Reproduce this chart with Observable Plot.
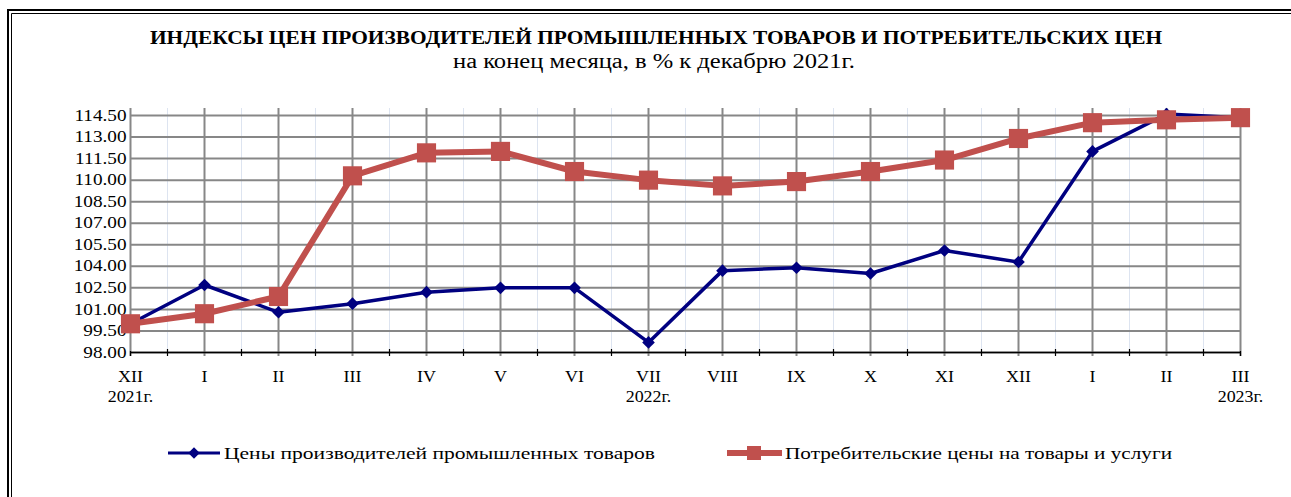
<!DOCTYPE html>
<html><head><meta charset="utf-8">
<script src="https://cdn.jsdelivr.net/npm/d3@7"></script>
<script src="https://cdn.jsdelivr.net/npm/@observablehq/plot@0.6"></script>
<style>
html,body{margin:0;padding:0;background:#fff;}
#wrap{position:relative;width:1291px;height:497px;overflow:hidden;font-family:"Liberation Serif",serif;}
#wrap svg{position:absolute;left:0;top:0;}
</style></head>
<body><div id="wrap"></div>
<script>
const months = ["XII","I","II","III","IV","V","VI","VII","VIII","IX","X","XI","XII","I","II","III"];
const years = ["2021г.","","","","","","","2022г.","","","","","","","","2023г."];
const producer = [100.0, 102.7, 100.8, 101.4, 102.2, 102.5, 102.5, 98.7, 103.7, 103.9, 103.5, 105.1, 104.3, 112.0, 114.6, 114.35];
const consumer = [100.0, 100.7, 101.9, 110.3, 111.9, 112.0, 110.6, 110.0, 109.6, 109.9, 110.6, 111.4, 112.9, 114.0, 114.2, 114.35];
const yTicks = [98, 99.5, 101, 102.5, 104, 105.5, 107, 108.5, 110, 111.5, 113, 114.5];
const titleText = "ИНДЕКСЫ ЦЕН ПРОИЗВОДИТЕЛЕЙ ПРОМЫШЛЕННЫХ ТОВАРОВ И ПОТРЕБИТЕЛЬСКИХ ЦЕН";
const subtitleText = "на конец месяца, в % к декабрю 2021г.";
const seriesNames = ["Цены производителей промышленных товаров", "Потребительские цены на товары и услуги"];
const colors = ["#000080", "#C0504D"];

const rows = months.map((m, i) => ({i, m, p: producer[i], c: consumer[i]}));
const idx = d3.range(months.length);
const mids = d3.range(months.length - 1).map(i => i + 0.5);
const yearIdx = idx.filter(i => years[i]);
const font = "Liberation Serif";

const chart = Plot.plot({
  width: 1291, height: 497,
  marginLeft: 130, marginRight: 51, marginTop: 108, marginBottom: 145,
  style: {fontFamily: font, fontSize: "16px", color: "#000", background: "transparent", overflow: "visible"},
  x: {type: "linear", domain: [0, months.length - 1], label: null},
  y: {domain: [98, 114.5], range: [352, 115], label: null},
  marks: [
    Plot.ruleX(mids, {stroke: "#dde4f0", strokeWidth: 1}),
    Plot.gridY(yTicks, {stroke: "#878787", strokeWidth: 2, strokeOpacity: 1}),
    Plot.ruleX(idx, {stroke: "#878787", strokeWidth: 2, insetBottom: -4}),
    Plot.ruleY([98], {stroke: "#000", strokeWidth: 1.5}),
    Plot.ruleX(mids, {stroke: "#000", strokeWidth: 1.2, insetTop: 241, insetBottom: -4}),
    Plot.ruleX([0, months.length - 1], {stroke: "#000", strokeWidth: 1.2, insetTop: 243, insetBottom: -4}),
    Plot.axisY(yTicks, {tickSize: 0, tickPadding: 4, tickFormat: d => d.toFixed(2), fontSize: 16, fill: "#000", label: null}),
    Plot.axisX(idx, {tickSize: 0, tickPadding: 18, tickFormat: i => months[i], fontSize: 16, fill: "#000", label: null}),
    Plot.axisX(yearIdx, {tickSize: 0, tickPadding: 38, tickFormat: i => years[i], fontSize: 16, fill: "#000", label: null}),
    Plot.line(rows, {x: "i", y: "p", stroke: colors[0], strokeWidth: 3.5}),
    Plot.dot(rows, {x: "i", y: "p", symbol: "diamond2", r: 5.7, fill: colors[0], stroke: "none"}),
    Plot.line(rows, {x: "i", y: "c", stroke: colors[1], strokeWidth: 6}),
    Plot.dot(rows, {x: "i", y: "c", symbol: "square", r: 10.8, fill: colors[1], stroke: "none"})
  ]
});
const wrap = document.getElementById("wrap");
wrap.appendChild(chart);

function stretch(nodes, k) {
  nodes.forEach(t => {
    const w = t.getComputedTextLength();
    if (w > 0) { t.setAttribute("textLength", w * k); t.setAttribute("lengthAdjust", "spacingAndGlyphs"); }
  });
}
stretch(chart.querySelectorAll('g[aria-label="y-axis tick label"] text'), 1.2);
stretch(chart.querySelectorAll('g[aria-label="x-axis tick label"] text'), 1.12);

const ov = d3.select(wrap).append("svg").attr("width", 1291).attr("height", 497);
ov.append("path").attr("d", "M8,497V10H1291").attr("fill", "none").attr("stroke", "#000").attr("stroke-width", 2);
ov.append("path").attr("d", "M11.5,497V13.5H1291").attr("fill", "none").attr("stroke", "#000").attr("stroke-width", 1);

function txt(s, x, y, size, weight, anchor, len) {
  const t = ov.append("text").attr("x", x).attr("y", y).style("font-family", font).attr("font-size", size)
    .attr("font-weight", weight).attr("text-anchor", anchor).attr("fill", "#000").text(s);
  if (len) t.attr("textLength", len).attr("lengthAdjust", "spacingAndGlyphs");
  return t;
}
txt(titleText, 656, 44, 19.5, "bold", "middle", 1012);
txt(subtitleText, 654, 68, 20, "normal", "middle", 402);

const lg = ov.append("g");
lg.append("line").attr("x1", 168).attr("x2", 220).attr("y1", 453).attr("y2", 453).attr("stroke", colors[0]).attr("stroke-width", 3);
lg.append("path").attr("d", d3.symbol(d3.symbolDiamond2, Math.PI * 5.2 * 5.2)()).attr("transform", "translate(194,453)").attr("fill", colors[0]);
txt(seriesNames[0], 224, 459, 17.5, "normal", "start", 431);
lg.append("line").attr("x1", 727).attr("x2", 782).attr("y1", 453).attr("y2", 453).attr("stroke", colors[1]).attr("stroke-width", 6);
lg.append("rect").attr("x", 754 - 7).attr("y", 453 - 7).attr("width", 14).attr("height", 14).attr("fill", colors[1]);
txt(seriesNames[1], 785, 459, 17.5, "normal", "start", 387);
</script>
</body></html>
